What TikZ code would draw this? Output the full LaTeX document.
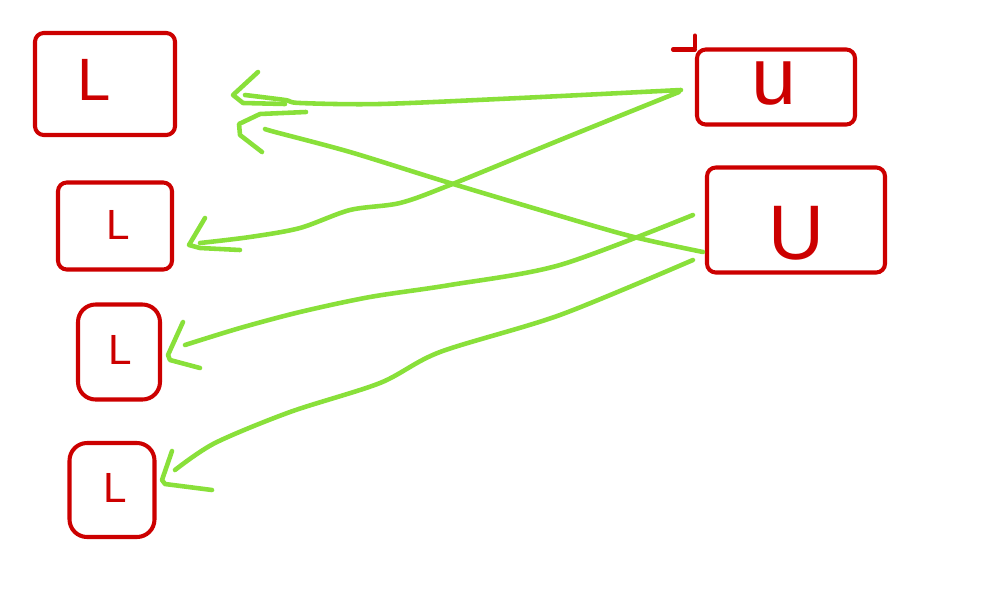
\documentclass[tikz,border=0pt]{standalone}
\usepackage{fontspec}
\setmainfont{Liberation Sans}
\usetikzlibrary{calc}
\definecolor{sred}{RGB}{204,0,0}
\definecolor{sgreen}{RGB}{137,224,58}
\tikzset{
  box/.style={draw=sred, line width=1.15pt, rounded corners=2.5pt, inner sep=0pt, text=sred},
  conn/.style={draw=sgreen, line width=1.3pt, line cap=round, line join=round},
}
\begin{document}
\begin{tikzpicture}[x=0.01cm, y=-0.01cm]
\useasboundingbox (0,0) rectangle (1000,600);
% boxes
\node[box, minimum width=140*0.01cm, minimum height=102*0.01cm] (L1) at (105,84) {};
\node[text=sred, font=\fontsize{17}{17}\selectfont] (L1t) at (94,80) {L};
\node[box, minimum width=114*0.01cm, minimum height=87*0.01cm] (L2) at (115,226) {};
\node[text=sred, font=\fontsize{12}{12}\selectfont] (L2t) at (118,225) {L};
\node[box, rounded corners=5pt, minimum width=82*0.01cm, minimum height=95*0.01cm] (L3) at (119,352) {};
\node[text=sred, font=\fontsize{12}{12}\selectfont] (L3t) at (120,350) {L};
\node[box, rounded corners=5pt, minimum width=85*0.01cm, minimum height=94*0.01cm] (L4) at (112,490) {};
\node[text=sred, font=\fontsize{12}{12}\selectfont] (L4t) at (115,488) {L};
\node[box, minimum width=158*0.01cm, minimum height=75*0.01cm] (U1) at (776,87) {};
\node[text=sred, font=\fontsize{23}{23}\selectfont] (U1t) at (774,84) {u};
\draw[sred, line width=1.15pt, line cap=round] ($(U1.north west)+(-22,2)$) -- ($(U1.north west)+(0,2)$);
\draw[sred, line width=1.15pt, line cap=round] ($(U1.north west)+(0,-12)$) -- (U1.north west);
\node[box, minimum width=178*0.01cm, minimum height=105*0.01cm] (U2) at (796,220) {};
\node[text=sred, font=\fontsize{22}{22}\selectfont] (U2t) at (796,233) {U};
% start and tip coordinates
\coordinate (s1) at ($(U1.west)+(-14,3)$);
\coordinate (s2) at ($(U1.west)+(-16,5)$);
\coordinate (s3) at ($(U2.west)+(-2,32)$);
\coordinate (s4) at ($(U2.west)+(-12,-5)$);
\coordinate (s5) at ($(U2.west)+(-12,40)$);
\coordinate (t1) at (233,95);
\coordinate (t2) at (189,245);
\coordinate (t3) at (239,124);
\coordinate (t4) at (168,355);
\coordinate (t5) at (162,480);
% connectors
\draw[conn] plot[smooth, tension=0.5] coordinates {(s1) (520,98) (380,104) (300,103) (285,100) (245,95)};
\draw[conn] (258,72) -- (t1) -- (243,103) -- (285,104);
\draw[conn] plot[smooth, tension=0.5] coordinates {(s2) (560,140) (450,185) (400,203) (350,210) (300,228) (250,237) (200,243)};
\draw[conn] (205,218) -- (t2) -- (200,248) -- (240,250);
\draw[conn] plot[smooth, tension=0.5] coordinates {(s3) (630,236) (540,210) (440,180) (350,152) (275,132) (265,129)};
\draw[conn] (306,112) -- (260,114) -- (t3) -- (240,135) -- (262,152);
\draw[conn] plot[smooth, tension=0.5] coordinates {(s4) (560,265) (450,285) (370,297) (300,312) (240,328) (185,345)};
\draw[conn] (183,322) -- (t4) -- (170,360) -- (200,368);
\draw[conn] plot[smooth, tension=0.5] coordinates {(s5) (560,315) (440,352) (380,383) (290,412) (215,443) (175,470)};
\draw[conn] (172,451) -- (t5) -- (165,484) -- (212,490);
\end{tikzpicture}
\end{document}
